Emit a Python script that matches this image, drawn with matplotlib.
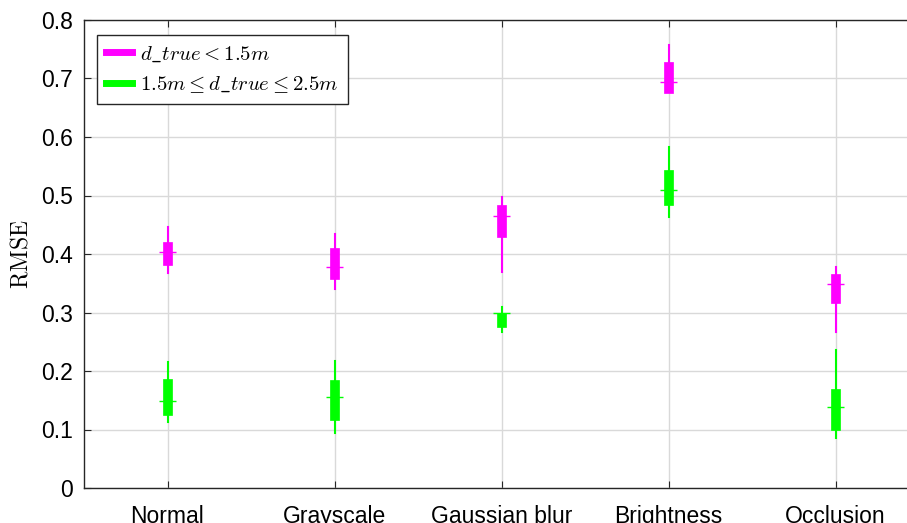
import numpy as np
import matplotlib
matplotlib.use('Agg')
import matplotlib.pyplot as plt
from matplotlib.lines import Line2D

plt.rcParams['font.family'] = ['Liberation Sans', 'DejaVu Sans']
plt.rcParams['mathtext.fontset'] = 'cm'

# Donnees
categories = ['Normal', 'Grayscale', 'Gaussian blur', 'Brightness', 'Occlusion']

near_whislo = [0.367, 0.340, 0.370, 0.676, 0.267]
near_q1 = [0.382, 0.358, 0.429, 0.676, 0.317]
near_med = [0.403, 0.378, 0.465, 0.694, 0.348]
near_q3 = [0.420, 0.410, 0.483, 0.729, 0.366]
near_whishi = [0.446, 0.435, 0.498, 0.757, 0.377]

far_whislo = [0.113, 0.094, 0.267, 0.463, 0.086]
far_q1 = [0.125, 0.117, 0.275, 0.484, 0.099]
far_med = [0.148, 0.156, 0.299, 0.509, 0.138]
far_q3 = [0.186, 0.185, 0.300, 0.544, 0.169]
far_whishi = [0.215, 0.217, 0.310, 0.583, 0.236]

labels = [r'$d\_true < 1.5m$', r'$1.5m \leq d\_true \leq 2.5m$']
colors = ['#ff00ff', '#00ff00']

fig = plt.figure(figsize=(9.07, 5.23), dpi=100)
ax = fig.add_axes([84 / 907, 35 / 523, 835 / 907, 468 / 523])

pos = np.arange(1, len(categories) + 1)
groups = [
    (near_whislo, near_q1, near_med, near_q3, near_whishi),
    (far_whislo, far_q1, far_med, far_q3, far_whishi),
]

for (wlo, q1, med, q3, whi), col in zip(groups, colors):
    stats = [dict(whislo=a, q1=b, med=c, q3=d, whishi=e)
             for a, b, c, d, e in zip(wlo, q1, med, q3, whi)]
    ax.bxp(stats, positions=pos, widths=0.048, showfliers=False,
           showcaps=False, patch_artist=True,
           boxprops=dict(facecolor=col, edgecolor=col, linewidth=0.5),
           whiskerprops=dict(color=col, linewidth=1.5),
           medianprops=dict(color=col, linewidth=0), zorder=3)
    ax.hlines(med, pos - 0.05, pos + 0.05, colors=col, linewidth=1.0, zorder=4)

ax.set_xlim(0.5, 5.5)
ax.set_ylim(0, 0.8)
ax.set_xticks(pos)
ax.set_xticklabels(categories)
ax.set_yticks(np.arange(0, 0.81, 0.1))
ax.set_yticklabels(['0', '0.1', '0.2', '0.3', '0.4', '0.5', '0.6', '0.7', '0.8'])
ax.tick_params(axis='both', direction='in', labelsize=16.5, length=5,
               top=True, right=True, color='#262626')
ax.tick_params(axis='x', pad=12)
ax.tick_params(axis='y', pad=8)
ax.grid(True, color='#d9d9d9', linewidth=1.0)
ax.set_axisbelow(True)
for s in ax.spines.values():
    s.set_color('#262626')
    s.set_linewidth(1.0)

ax.set_ylabel(r'$\mathrm{RMSE}$', fontsize=17, labelpad=6)

handles = [Line2D([], [], color=c, linewidth=5) for c in colors]
leg = ax.legend(handles, labels, loc='upper left',
                bbox_to_anchor=(13 / 835, 1 - 15 / 468), borderaxespad=0,
                fontsize=15, handlelength=1.25, handletextpad=0.35,
                borderpad=0.45, labelspacing=0.5, fancybox=False, framealpha=1)
leg.get_frame().set_edgecolor('#262626')
leg.get_frame().set_linewidth(1.0)

fig.savefig('out.png', dpi=100)
